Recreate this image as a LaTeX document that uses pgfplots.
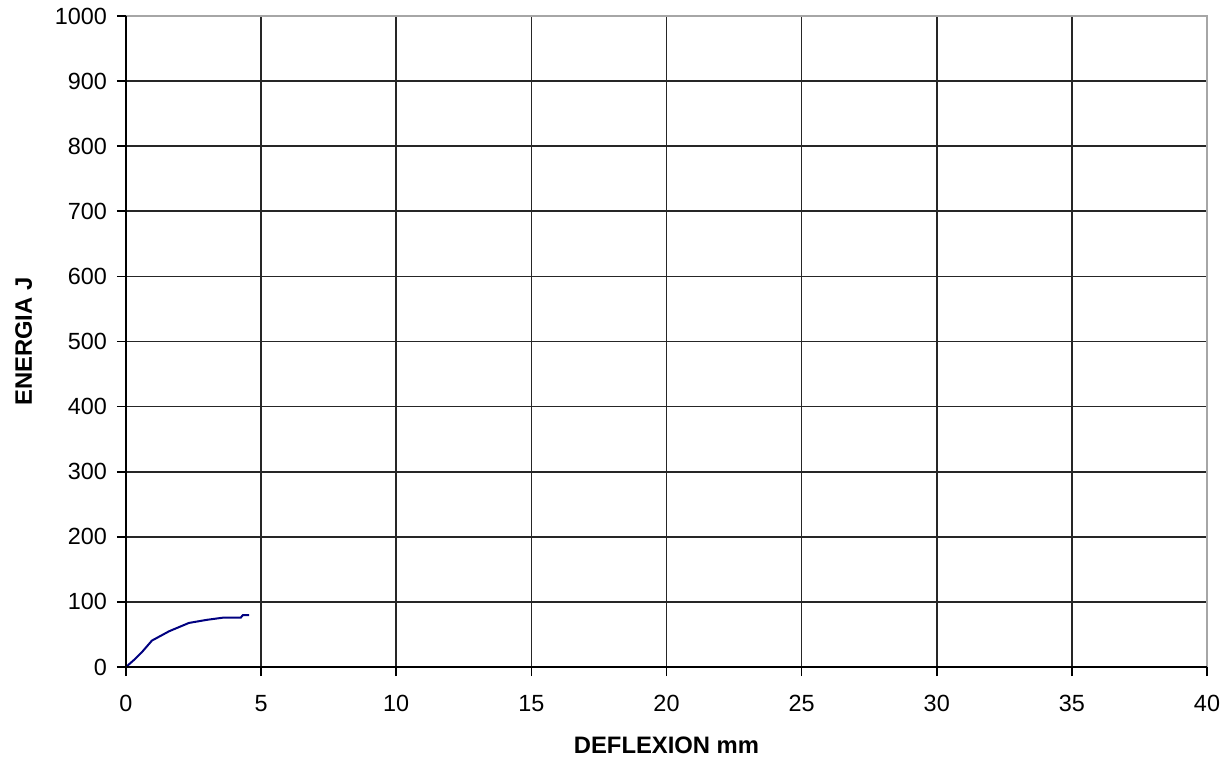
\documentclass[border=0pt]{standalone}
\usepackage{pgfplots}
\pgfplotsset{compat=1.18}
\usepackage{fontspec}
\setmainfont{Liberation Sans}
\definecolor{navy}{RGB}{0,0,128}
\begin{document}
\begin{tikzpicture}
\begin{axis}[
  scale only axis,
  width=540.5pt, height=325.5pt,
  xmin=0, xmax=40, ymin=0, ymax=1000,
  xtick={0,5,...,40}, ytick={0,100,...,1000},
  grid=major,
  major grid style={black!85, line width=0.85pt},
  axis line style={draw=none},
  tick align=outside,
  major tick length=4.5pt,
  tick style={black, line width=0.85pt},
  xtick pos=bottom, ytick pos=left,
  /pgf/number format/assume math mode=true,
  /pgf/number format/1000 sep={},
  ticklabel style={font=\fontsize{11.7}{14}\selectfont},
  xticklabel style={yshift=-6pt},
  yticklabel style={xshift=-1.5pt},
  xlabel={\textbf{DEFLEXION mm}},
  ylabel={\textbf{ENERGIA J}},
  label style={font=\fontsize{11.9}{14}\selectfont},
  xlabel style={yshift=-6pt},
  ylabel style={yshift=4.5pt},
  clip=false,
]
\addplot[navy, line width=1pt] coordinates {
(0,0) (0.3,11) (0.58,22.4) (0.96,40.6) (1.6,55) (2.33,67.7) (3.0,72.5) (3.63,76) (4.25,76) (4.32,79.5) (4.56,79.5)
};
\draw[gray!70, line width=0.85pt] (axis cs:0,1000) -- (axis cs:40,1000) -- (axis cs:40,0);
\draw[black, line width=0.85pt] (axis cs:0,1000) -- (axis cs:0,0) -- (axis cs:40,0);
\end{axis}
\path ([shift={(-63pt,-48.5pt)}]current axis.south west) rectangle ([shift={(11pt,8pt)}]current axis.north east);
\end{tikzpicture}
\end{document}
